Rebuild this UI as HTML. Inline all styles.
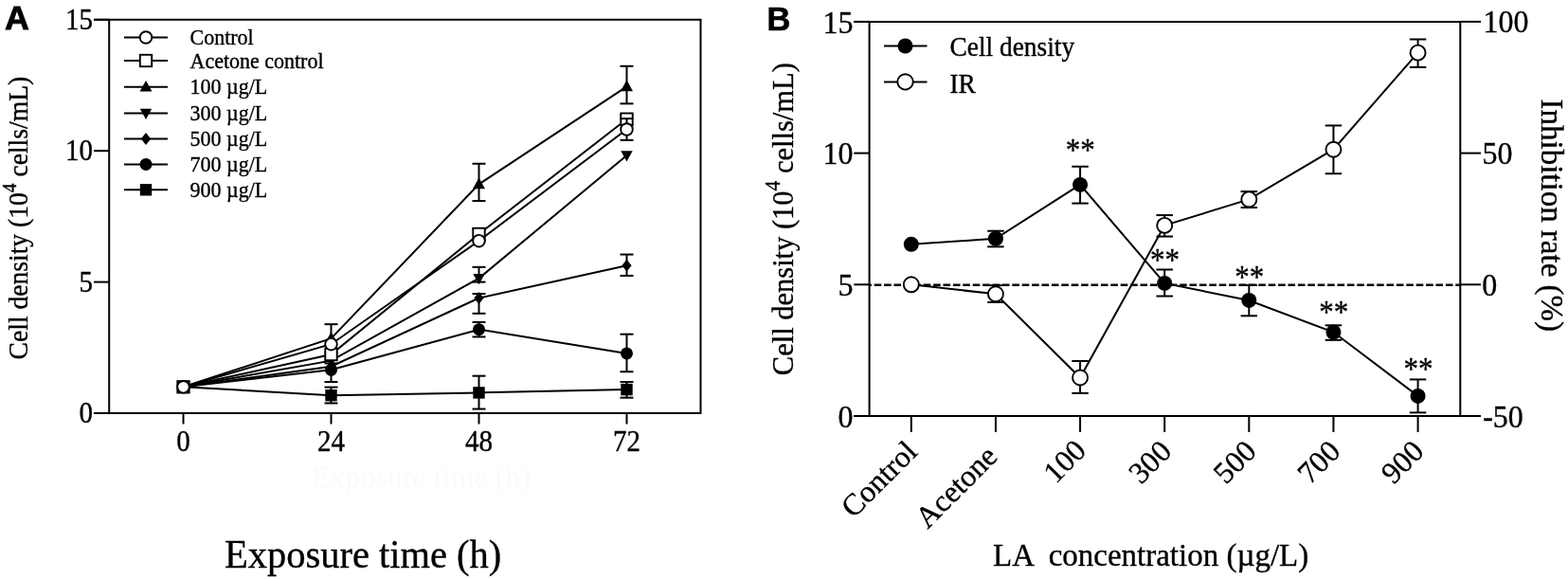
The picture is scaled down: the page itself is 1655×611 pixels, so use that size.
<!DOCTYPE html>
<html><head><meta charset="utf-8"><title>Figure</title>
<style>html,body{margin:0;padding:0;background:#fff;}svg{display:block;}</style></head>
<body><svg width="1655" height="611" viewBox="0 0 1655 611" font-family='"Liberation Serif", "Times New Roman", serif' fill="#000">
<style>text{stroke:#000;stroke-width:0.35px;}</style>
<rect width="1655" height="611" fill="#fff"/>
<text x="5.0" y="31.5" font-family="Liberation Sans, Arial, sans-serif" font-weight="bold" font-size="34.5" style="stroke-width:0.8px" transform="translate(5,0) scale(1.04,1) translate(-5,0)">A</text>
<text x="809.6" y="31.8" font-family="Liberation Sans, Arial, sans-serif" font-weight="bold" font-size="34.5" style="stroke-width:0.6px">B</text>
<path d="M115.20,20.80 V436.00 M99,436.00 H740.50 M99,20.80 H740.50 M739.50,20.80 V437.00" stroke="#000" stroke-width="2.0" fill="none"/>
<line x1="99.00" y1="436.00" x2="115.20" y2="436.00" stroke="#000" stroke-width="2.0" />
<text transform="translate(98.00,446.20) scale(1,1.06)" font-size="29" text-anchor="end" >0</text>
<line x1="99.00" y1="297.60" x2="115.20" y2="297.60" stroke="#000" stroke-width="2.0" />
<text transform="translate(98.00,307.80) scale(1,1.06)" font-size="29" text-anchor="end" >5</text>
<line x1="99.00" y1="159.20" x2="115.20" y2="159.20" stroke="#000" stroke-width="2.0" />
<text transform="translate(98.00,169.40) scale(1,1.06)" font-size="29" text-anchor="end" >10</text>
<line x1="99.00" y1="20.80" x2="115.20" y2="20.80" stroke="#000" stroke-width="2.0" />
<text transform="translate(98.00,31.00) scale(1,1.06)" font-size="29" text-anchor="end" >15</text>
<line x1="193.50" y1="436.00" x2="193.50" y2="447.50" stroke="#000" stroke-width="2.0" />
<text transform="translate(193.50,475.50) scale(1,1.06)" font-size="29" text-anchor="middle" >0</text>
<line x1="349.50" y1="436.00" x2="349.50" y2="447.50" stroke="#000" stroke-width="2.0" />
<text transform="translate(349.50,475.50) scale(1,1.06)" font-size="29" text-anchor="middle" >24</text>
<line x1="505.50" y1="436.00" x2="505.50" y2="447.50" stroke="#000" stroke-width="2.0" />
<text transform="translate(505.50,475.50) scale(1,1.06)" font-size="29" text-anchor="middle" >48</text>
<line x1="661.50" y1="436.00" x2="661.50" y2="447.50" stroke="#000" stroke-width="2.0" />
<text transform="translate(661.50,475.50) scale(1,1.06)" font-size="29" text-anchor="middle" >72</text>
<polyline points="193.50,408.32 349.50,390.33 505.50,347.70 661.50,372.89" fill="none" stroke="#000" stroke-width="2.0"/>
<polyline points="193.50,408.32 349.50,386.73 505.50,314.48 661.50,280.16" fill="none" stroke="#000" stroke-width="2.0"/>
<polyline points="193.50,408.32 349.50,380.64 505.50,293.72 661.50,163.91" fill="none" stroke="#000" stroke-width="2.0"/>
<polyline points="193.50,408.32 349.50,357.11 505.50,194.35 661.50,91.38" fill="none" stroke="#000" stroke-width="2.0"/>
<polyline points="193.50,408.32 349.50,374.00 505.50,246.95 661.50,125.71" fill="none" stroke="#000" stroke-width="2.0"/>
<polyline points="193.50,408.32 349.50,417.18 505.50,414.41 661.50,411.09" fill="none" stroke="#000" stroke-width="2.0"/>
<polyline points="193.50,408.32 349.50,363.20 505.50,254.14 661.50,136.50" fill="none" stroke="#000" stroke-width="2.0"/>
<line x1="349.50" y1="403.06" x2="349.50" y2="383.41" stroke="#000" stroke-width="2.0" />
<line x1="342.50" y1="403.06" x2="356.50" y2="403.06" stroke="#000" stroke-width="2.0" />
<line x1="342.50" y1="383.41" x2="356.50" y2="383.41" stroke="#000" stroke-width="2.0" />
<line x1="505.50" y1="355.45" x2="505.50" y2="339.95" stroke="#000" stroke-width="2.0" />
<line x1="498.50" y1="355.45" x2="512.50" y2="355.45" stroke="#000" stroke-width="2.0" />
<line x1="498.50" y1="339.95" x2="512.50" y2="339.95" stroke="#000" stroke-width="2.0" />
<line x1="661.50" y1="392.27" x2="661.50" y2="352.68" stroke="#000" stroke-width="2.0" />
<line x1="654.50" y1="392.27" x2="668.50" y2="392.27" stroke="#000" stroke-width="2.0" />
<line x1="654.50" y1="352.68" x2="668.50" y2="352.68" stroke="#000" stroke-width="2.0" />
<circle cx="193.50" cy="408.32" r="6.50" fill="#000"/>
<circle cx="349.50" cy="390.33" r="6.50" fill="#000"/>
<circle cx="505.50" cy="347.70" r="6.50" fill="#000"/>
<circle cx="661.50" cy="372.89" r="6.50" fill="#000"/>
<line x1="505.50" y1="330.82" x2="505.50" y2="310.06" stroke="#000" stroke-width="2.0" />
<line x1="498.50" y1="330.82" x2="512.50" y2="330.82" stroke="#000" stroke-width="2.0" />
<line x1="498.50" y1="310.06" x2="512.50" y2="310.06" stroke="#000" stroke-width="2.0" />
<line x1="661.50" y1="290.96" x2="661.50" y2="268.54" stroke="#000" stroke-width="2.0" />
<line x1="654.50" y1="290.96" x2="668.50" y2="290.96" stroke="#000" stroke-width="2.0" />
<line x1="654.50" y1="268.54" x2="668.50" y2="268.54" stroke="#000" stroke-width="2.0" />
<polygon points="193.50,401.92 198.62,408.32 193.50,414.72 188.38,408.32" fill="#000"/>
<polygon points="349.50,380.33 354.62,386.73 349.50,393.13 344.38,386.73" fill="#000"/>
<polygon points="505.50,308.08 510.62,314.48 505.50,320.88 500.38,314.48" fill="#000"/>
<polygon points="661.50,273.76 666.62,280.16 661.50,286.56 656.38,280.16" fill="#000"/>
<line x1="505.50" y1="297.60" x2="505.50" y2="281.82" stroke="#000" stroke-width="2.0" />
<line x1="498.50" y1="297.60" x2="512.50" y2="297.60" stroke="#000" stroke-width="2.0" />
<line x1="498.50" y1="281.82" x2="512.50" y2="281.82" stroke="#000" stroke-width="2.0" />
<polygon points="193.50,414.83 199.70,403.67 187.30,403.67" fill="#000"/>
<polygon points="349.50,387.15 355.70,375.99 343.30,375.99" fill="#000"/>
<polygon points="505.50,300.23 511.70,289.07 499.30,289.07" fill="#000"/>
<polygon points="661.50,170.42 667.70,159.26 655.30,159.26" fill="#000"/>
<line x1="349.50" y1="372.34" x2="349.50" y2="342.16" stroke="#000" stroke-width="2.0" />
<line x1="342.50" y1="372.34" x2="356.50" y2="372.34" stroke="#000" stroke-width="2.0" />
<line x1="342.50" y1="342.16" x2="356.50" y2="342.16" stroke="#000" stroke-width="2.0" />
<line x1="505.50" y1="212.07" x2="505.50" y2="172.76" stroke="#000" stroke-width="2.0" />
<line x1="498.50" y1="212.07" x2="512.50" y2="212.07" stroke="#000" stroke-width="2.0" />
<line x1="498.50" y1="172.76" x2="512.50" y2="172.76" stroke="#000" stroke-width="2.0" />
<line x1="661.50" y1="109.38" x2="661.50" y2="69.79" stroke="#000" stroke-width="2.0" />
<line x1="654.50" y1="109.38" x2="668.50" y2="109.38" stroke="#000" stroke-width="2.0" />
<line x1="654.50" y1="69.79" x2="668.50" y2="69.79" stroke="#000" stroke-width="2.0" />
<polygon points="193.50,401.50 200.00,413.19 187.00,413.19" fill="#000"/>
<polygon points="349.50,350.29 356.00,361.99 343.00,361.99" fill="#000"/>
<polygon points="505.50,187.53 512.00,199.23 499.00,199.23" fill="#000"/>
<polygon points="661.50,84.56 668.00,96.26 655.00,96.26" fill="#000"/>
<line x1="505.50" y1="253.31" x2="505.50" y2="241.69" stroke="#000" stroke-width="2.0" />
<line x1="498.50" y1="253.31" x2="512.50" y2="253.31" stroke="#000" stroke-width="2.0" />
<line x1="498.50" y1="241.69" x2="512.50" y2="241.69" stroke="#000" stroke-width="2.0" />
<line x1="661.50" y1="131.52" x2="661.50" y2="121.28" stroke="#000" stroke-width="2.0" />
<line x1="654.50" y1="131.52" x2="668.50" y2="131.52" stroke="#000" stroke-width="2.0" />
<line x1="654.50" y1="121.28" x2="668.50" y2="121.28" stroke="#000" stroke-width="2.0" />
<rect x="187.30" y="402.12" width="12.40" height="12.40" fill="#fff" stroke="#000" stroke-width="1.9"/>
<rect x="343.30" y="367.80" width="12.40" height="12.40" fill="#fff" stroke="#000" stroke-width="1.9"/>
<rect x="499.30" y="240.75" width="12.40" height="12.40" fill="#fff" stroke="#000" stroke-width="1.9"/>
<rect x="655.30" y="119.51" width="12.40" height="12.40" fill="#fff" stroke="#000" stroke-width="1.9"/>
<line x1="349.50" y1="425.48" x2="349.50" y2="408.60" stroke="#000" stroke-width="2.0" />
<line x1="342.50" y1="425.48" x2="356.50" y2="425.48" stroke="#000" stroke-width="2.0" />
<line x1="342.50" y1="408.60" x2="356.50" y2="408.60" stroke="#000" stroke-width="2.0" />
<line x1="505.50" y1="431.57" x2="505.50" y2="396.69" stroke="#000" stroke-width="2.0" />
<line x1="498.50" y1="431.57" x2="512.50" y2="431.57" stroke="#000" stroke-width="2.0" />
<line x1="498.50" y1="396.69" x2="512.50" y2="396.69" stroke="#000" stroke-width="2.0" />
<line x1="661.50" y1="419.67" x2="661.50" y2="403.06" stroke="#000" stroke-width="2.0" />
<line x1="654.50" y1="419.67" x2="668.50" y2="419.67" stroke="#000" stroke-width="2.0" />
<line x1="654.50" y1="403.06" x2="668.50" y2="403.06" stroke="#000" stroke-width="2.0" />
<rect x="187.30" y="402.12" width="12.40" height="12.40" fill="#000"/>
<rect x="343.30" y="410.98" width="12.40" height="12.40" fill="#000"/>
<rect x="499.30" y="408.21" width="12.40" height="12.40" fill="#000"/>
<rect x="655.30" y="404.89" width="12.40" height="12.40" fill="#000"/>
<line x1="661.50" y1="147.85" x2="661.50" y2="125.15" stroke="#000" stroke-width="2.0" />
<line x1="654.50" y1="147.85" x2="668.50" y2="147.85" stroke="#000" stroke-width="2.0" />
<line x1="654.50" y1="125.15" x2="668.50" y2="125.15" stroke="#000" stroke-width="2.0" />
<circle cx="193.50" cy="408.32" r="6.30" fill="#fff" stroke="#000" stroke-width="1.9"/>
<circle cx="349.50" cy="363.20" r="6.30" fill="#fff" stroke="#000" stroke-width="1.9"/>
<circle cx="505.50" cy="254.14" r="6.30" fill="#fff" stroke="#000" stroke-width="1.9"/>
<circle cx="661.50" cy="136.50" r="6.30" fill="#fff" stroke="#000" stroke-width="1.9"/>
<line x1="131.00" y1="39.50" x2="177.00" y2="39.50" stroke="#000" stroke-width="2.0" />
<circle cx="154.00" cy="39.50" r="6.30" fill="#fff" stroke="#000" stroke-width="1.9"/>
<text transform="translate(200.50,47.20) scale(1,1.06)" font-size="22" text-anchor="start" >Control</text>
<line x1="131.00" y1="64.00" x2="177.00" y2="64.00" stroke="#000" stroke-width="2.0" />
<rect x="147.80" y="57.80" width="12.40" height="12.40" fill="#fff" stroke="#000" stroke-width="1.9"/>
<text transform="translate(200.50,71.70) scale(1,1.06)" font-size="22" text-anchor="start" >Acetone control</text>
<line x1="131.00" y1="91.70" x2="177.00" y2="91.70" stroke="#000" stroke-width="2.0" />
<polygon points="154.00,84.88 160.50,96.58 147.50,96.58" fill="#000"/>
<text transform="translate(200.50,99.40) scale(1,1.06)" font-size="22" text-anchor="start" >100 µg/L</text>
<line x1="131.00" y1="119.40" x2="177.00" y2="119.40" stroke="#000" stroke-width="2.0" />
<polygon points="154.00,125.91 160.20,114.75 147.80,114.75" fill="#000"/>
<text transform="translate(200.50,127.10) scale(1,1.06)" font-size="22" text-anchor="start" >300 µg/L</text>
<line x1="131.00" y1="146.50" x2="177.00" y2="146.50" stroke="#000" stroke-width="2.0" />
<polygon points="154.00,140.10 159.12,146.50 154.00,152.90 148.88,146.50" fill="#000"/>
<text transform="translate(200.50,154.20) scale(1,1.06)" font-size="22" text-anchor="start" >500 µg/L</text>
<line x1="131.00" y1="173.40" x2="177.00" y2="173.40" stroke="#000" stroke-width="2.0" />
<circle cx="154.00" cy="173.40" r="6.50" fill="#000"/>
<text transform="translate(200.50,181.10) scale(1,1.06)" font-size="22" text-anchor="start" >700 µg/L</text>
<line x1="131.00" y1="200.30" x2="177.00" y2="200.30" stroke="#000" stroke-width="2.0" />
<rect x="147.80" y="194.10" width="12.40" height="12.40" fill="#000"/>
<text transform="translate(200.50,208.00) scale(1,1.06)" font-size="22" text-anchor="start" >900 µg/L</text>
<text transform="translate(29.3,379.4) rotate(-90) scale(1,1.05)" font-size="27.6">Cell density (10<tspan font-size="19.5" dy="-12">4</tspan><tspan dy="12"> cells/mL)</tspan></text>
<text transform="translate(237.00,598.50) scale(1,1.04)" font-size="40.5" text-anchor="start" >Exposure time (h)</text>
<text x="329" y="513.5" font-size="32" fill="#fafafa" style="stroke:none">Exposure time (h)</text>
<path d="M917.60,22.90 V439.00 M901.3,439.00 H1542.30 M901.3,22.90 H1542.30 M1541.30,22.90 V440.00" stroke="#000" stroke-width="2.0" fill="none"/>
<line x1="901.30" y1="439.00" x2="917.60" y2="439.00" stroke="#000" stroke-width="2.0" />
<text transform="translate(900.50,450.80) scale(1,1.06)" font-size="32" text-anchor="end" >0</text>
<line x1="901.30" y1="300.30" x2="917.60" y2="300.30" stroke="#000" stroke-width="2.0" />
<text transform="translate(900.50,312.10) scale(1,1.06)" font-size="32" text-anchor="end" >5</text>
<line x1="901.30" y1="161.60" x2="917.60" y2="161.60" stroke="#000" stroke-width="2.0" />
<text transform="translate(900.50,173.40) scale(1,1.06)" font-size="32" text-anchor="end" >10</text>
<line x1="901.30" y1="22.90" x2="917.60" y2="22.90" stroke="#000" stroke-width="2.0" />
<text transform="translate(900.50,34.70) scale(1,1.06)" font-size="32" text-anchor="end" >15</text>
<line x1="1541.30" y1="22.90" x2="1563.00" y2="22.90" stroke="#000" stroke-width="2.0" />
<text transform="translate(1565.50,34.40) scale(1,1.06)" font-size="32" text-anchor="start" >100</text>
<line x1="1541.30" y1="161.60" x2="1563.00" y2="161.60" stroke="#000" stroke-width="2.0" />
<text transform="translate(1564.50,173.10) scale(1,1.06)" font-size="32" text-anchor="start" >50</text>
<line x1="1541.30" y1="300.30" x2="1563.00" y2="300.30" stroke="#000" stroke-width="2.0" />
<text transform="translate(1564.20,311.80) scale(1,1.06)" font-size="32" text-anchor="start" >0</text>
<line x1="1541.30" y1="439.00" x2="1563.00" y2="439.00" stroke="#000" stroke-width="2.0" />
<text transform="translate(1565.20,450.50) scale(1,1.06)" font-size="32" text-anchor="start" >-50</text>
<line x1="917.60" y1="300.80" x2="1541.30" y2="300.80" stroke="#000" stroke-width="2.4" stroke-dasharray="7.6 2.8" stroke-dashoffset="5.3"/>
<line x1="961.80" y1="439.00" x2="961.80" y2="456.00" stroke="#000" stroke-width="2.0" />
<text transform="translate(969.80,478.50) rotate(-45)" font-size="32" text-anchor="end">Control</text>
<line x1="1050.93" y1="439.00" x2="1050.93" y2="456.00" stroke="#000" stroke-width="2.0" />
<text transform="translate(1054.40,483.50) rotate(-45)" font-size="32" text-anchor="end">Acetone</text>
<line x1="1140.06" y1="439.00" x2="1140.06" y2="456.00" stroke="#000" stroke-width="2.0" />
<text transform="translate(1148.10,477.20) rotate(-45)" font-size="32" text-anchor="end">100</text>
<line x1="1229.19" y1="439.00" x2="1229.19" y2="456.00" stroke="#000" stroke-width="2.0" />
<text transform="translate(1238.20,478.00) rotate(-45)" font-size="32" text-anchor="end">300</text>
<line x1="1318.32" y1="439.00" x2="1318.32" y2="456.00" stroke="#000" stroke-width="2.0" />
<text transform="translate(1327.80,478.00) rotate(-45)" font-size="32" text-anchor="end">500</text>
<line x1="1407.45" y1="439.00" x2="1407.45" y2="456.00" stroke="#000" stroke-width="2.0" />
<text transform="translate(1416.50,478.00) rotate(-45)" font-size="32" text-anchor="end">700</text>
<line x1="1496.58" y1="439.00" x2="1496.58" y2="456.00" stroke="#000" stroke-width="2.0" />
<text transform="translate(1504.60,478.00) rotate(-45)" font-size="32" text-anchor="end">900</text>
<polyline points="961.80,257.86 1050.93,251.75 1140.06,194.89 1229.19,298.91 1318.32,316.94 1407.45,350.51 1496.58,417.92" fill="none" stroke="#000" stroke-width="2.0"/>
<polyline points="961.80,300.30 1050.93,310.29 1140.06,398.50 1229.19,237.88 1318.32,210.42 1407.45,157.72 1496.58,55.63" fill="none" stroke="#000" stroke-width="2.0"/>
<line x1="1050.93" y1="260.35" x2="1050.93" y2="243.71" stroke="#000" stroke-width="2.0" />
<line x1="1042.18" y1="260.35" x2="1059.68" y2="260.35" stroke="#000" stroke-width="2.0" />
<line x1="1042.18" y1="243.71" x2="1059.68" y2="243.71" stroke="#000" stroke-width="2.0" />
<line x1="1140.06" y1="214.58" x2="1140.06" y2="175.75" stroke="#000" stroke-width="2.0" />
<line x1="1131.31" y1="214.58" x2="1148.81" y2="214.58" stroke="#000" stroke-width="2.0" />
<line x1="1131.31" y1="175.75" x2="1148.81" y2="175.75" stroke="#000" stroke-width="2.0" />
<line x1="1229.19" y1="312.51" x2="1229.19" y2="284.49" stroke="#000" stroke-width="2.0" />
<line x1="1220.44" y1="312.51" x2="1237.94" y2="312.51" stroke="#000" stroke-width="2.0" />
<line x1="1220.44" y1="284.49" x2="1237.94" y2="284.49" stroke="#000" stroke-width="2.0" />
<line x1="1318.32" y1="333.31" x2="1318.32" y2="300.85" stroke="#000" stroke-width="2.0" />
<line x1="1309.57" y1="333.31" x2="1327.07" y2="333.31" stroke="#000" stroke-width="2.0" />
<line x1="1309.57" y1="300.85" x2="1327.07" y2="300.85" stroke="#000" stroke-width="2.0" />
<line x1="1407.45" y1="358.83" x2="1407.45" y2="343.30" stroke="#000" stroke-width="2.0" />
<line x1="1398.70" y1="358.83" x2="1416.20" y2="358.83" stroke="#000" stroke-width="2.0" />
<line x1="1398.70" y1="343.30" x2="1416.20" y2="343.30" stroke="#000" stroke-width="2.0" />
<line x1="1496.58" y1="435.39" x2="1496.58" y2="400.44" stroke="#000" stroke-width="2.0" />
<line x1="1487.83" y1="435.39" x2="1505.33" y2="435.39" stroke="#000" stroke-width="2.0" />
<line x1="1487.83" y1="400.44" x2="1505.33" y2="400.44" stroke="#000" stroke-width="2.0" />
<line x1="1050.93" y1="318.89" x2="1050.93" y2="301.13" stroke="#000" stroke-width="2.0" />
<line x1="1042.18" y1="318.89" x2="1059.68" y2="318.89" stroke="#000" stroke-width="2.0" />
<line x1="1042.18" y1="301.13" x2="1059.68" y2="301.13" stroke="#000" stroke-width="2.0" />
<line x1="1140.06" y1="414.87" x2="1140.06" y2="381.02" stroke="#000" stroke-width="2.0" />
<line x1="1131.31" y1="414.87" x2="1148.81" y2="414.87" stroke="#000" stroke-width="2.0" />
<line x1="1131.31" y1="381.02" x2="1148.81" y2="381.02" stroke="#000" stroke-width="2.0" />
<line x1="1229.19" y1="249.54" x2="1229.19" y2="227.07" stroke="#000" stroke-width="2.0" />
<line x1="1220.44" y1="249.54" x2="1237.94" y2="249.54" stroke="#000" stroke-width="2.0" />
<line x1="1220.44" y1="227.07" x2="1237.94" y2="227.07" stroke="#000" stroke-width="2.0" />
<line x1="1318.32" y1="219.02" x2="1318.32" y2="202.10" stroke="#000" stroke-width="2.0" />
<line x1="1309.57" y1="219.02" x2="1327.07" y2="219.02" stroke="#000" stroke-width="2.0" />
<line x1="1309.57" y1="202.10" x2="1327.07" y2="202.10" stroke="#000" stroke-width="2.0" />
<line x1="1407.45" y1="183.24" x2="1407.45" y2="132.47" stroke="#000" stroke-width="2.0" />
<line x1="1398.70" y1="183.24" x2="1416.20" y2="183.24" stroke="#000" stroke-width="2.0" />
<line x1="1398.70" y1="132.47" x2="1416.20" y2="132.47" stroke="#000" stroke-width="2.0" />
<line x1="1496.58" y1="70.89" x2="1496.58" y2="41.49" stroke="#000" stroke-width="2.0" />
<line x1="1487.83" y1="70.89" x2="1505.33" y2="70.89" stroke="#000" stroke-width="2.0" />
<line x1="1487.83" y1="41.49" x2="1505.33" y2="41.49" stroke="#000" stroke-width="2.0" />
<circle cx="961.80" cy="257.86" r="8.00" fill="#000"/>
<circle cx="1050.93" cy="251.75" r="8.00" fill="#000"/>
<circle cx="1140.06" cy="194.89" r="8.00" fill="#000"/>
<circle cx="1229.19" cy="298.91" r="8.00" fill="#000"/>
<circle cx="1318.32" cy="316.94" r="8.00" fill="#000"/>
<circle cx="1407.45" cy="350.51" r="8.00" fill="#000"/>
<circle cx="1496.58" cy="417.92" r="8.00" fill="#000"/>
<circle cx="961.80" cy="300.30" r="8.00" fill="#fff" stroke="#000" stroke-width="1.9"/>
<circle cx="1050.93" cy="310.29" r="8.00" fill="#fff" stroke="#000" stroke-width="1.9"/>
<circle cx="1140.06" cy="398.50" r="8.00" fill="#fff" stroke="#000" stroke-width="1.9"/>
<circle cx="1229.19" cy="237.88" r="8.00" fill="#fff" stroke="#000" stroke-width="1.9"/>
<circle cx="1318.32" cy="210.42" r="8.00" fill="#fff" stroke="#000" stroke-width="1.9"/>
<circle cx="1407.45" cy="157.72" r="8.00" fill="#fff" stroke="#000" stroke-width="1.9"/>
<circle cx="1496.58" cy="55.63" r="8.00" fill="#fff" stroke="#000" stroke-width="1.9"/>
<text transform="translate(1140.36,169.30) scale(1,1.1)" font-size="31" text-anchor="middle" >**</text>
<text transform="translate(1229.49,284.60) scale(1,1.1)" font-size="31" text-anchor="middle" >**</text>
<text transform="translate(1318.62,303.10) scale(1,1.1)" font-size="31" text-anchor="middle" >**</text>
<text transform="translate(1407.75,340.40) scale(1,1.1)" font-size="31" text-anchor="middle" >**</text>
<text transform="translate(1496.88,400.30) scale(1,1.1)" font-size="31" text-anchor="middle" >**</text>
<line x1="933.00" y1="48.50" x2="978.50" y2="48.50" stroke="#000" stroke-width="2.0" />
<circle cx="955.50" cy="48.50" r="8.00" fill="#000"/>
<line x1="933.00" y1="86.40" x2="978.50" y2="86.40" stroke="#000" stroke-width="2.0" />
<circle cx="955.50" cy="86.40" r="8.20" fill="#fff" stroke="#000" stroke-width="1.9"/>
<text transform="translate(1002.50,59.00) scale(1,1.04)" font-size="27.4" text-anchor="start" >Cell density</text>
<text transform="translate(1002.50,97.50) scale(1,1.04)" font-size="27.4" text-anchor="start" >IR</text>
<text transform="translate(836.6,396.2) rotate(-90) scale(1,1.03)" font-size="30.5">Cell density (10<tspan font-size="21.5" dy="-13">4</tspan><tspan dy="13"> cells/mL)</tspan></text>
<text transform="translate(1627,104.5) rotate(90) scale(1,1.04)" font-size="33">Inhibition rate (%)</text>
<text transform="translate(1048,597) scale(1,1.04)" font-size="33" style="white-space:pre">LA  concentration (µg/L)</text>
</svg></body></html>
